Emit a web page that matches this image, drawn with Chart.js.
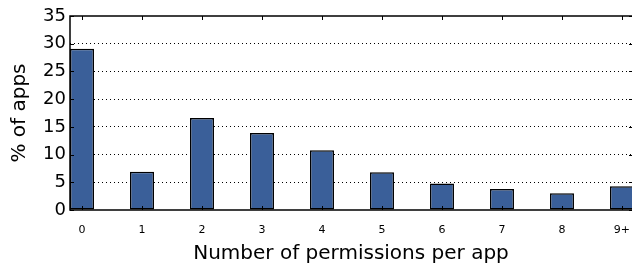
<!DOCTYPE html>
<html>
<head>
<meta charset="utf-8">
<script src="https://cdn.jsdelivr.net/npm/chart.js@4"></script>
<style>
html,body{margin:0;padding:0;background:#fff;overflow:hidden;width:632px;height:268px;}
canvas{display:block;}
</style>
</head>
<body>
<canvas id="c" width="632" height="268"></canvas>
<script>
const categories = ["0","1","2","3","4","5","6","7","8","9+"];
const percentApps = [29.1, 6.9, 16.6, 13.9, 10.8, 6.8, 4.8, 3.8, 3.0, 4.3];
const yTicks = [0,5,10,15,20,25,30,35];
const xRange = [-0.2, 9.167];

const FONT = "'DejaVu Sans', sans-serif";

const frame = {
  id: 'frame',
  afterDatasetsDraw(chart) {
    const {ctx, chartArea: a, scales} = chart;
    ctx.save();
    ctx.strokeStyle = '#000';
    ctx.lineWidth = 1;
    // inward ticks
    ctx.beginPath();
    categories.forEach((c, i) => {
      const x = Math.round(scales.x.getPixelForValue(i)) + 0.5;
      ctx.moveTo(x, a.top); ctx.lineTo(x, a.top + 4);
      ctx.moveTo(x, a.bottom); ctx.lineTo(x, a.bottom - 4);
    });
    yTicks.forEach(v => {
      const y = Math.round(scales.y.getPixelForValue(v)) + 0.5;
      ctx.moveTo(a.left, y); ctx.lineTo(a.left + 4, y);
      ctx.moveTo(a.right, y); ctx.lineTo(a.right - 3, y);
    });
    ctx.stroke();
    // spines (left, top, bottom; right spine lies just beyond the canvas)
    ctx.lineWidth = 1.5;
    ctx.beginPath();
    ctx.moveTo(a.right + 2, a.top); ctx.lineTo(a.left, a.top);
    ctx.lineTo(a.left, a.bottom); ctx.lineTo(a.right + 2, a.bottom);
    ctx.stroke();
    ctx.restore();
  }
};

new Chart(document.getElementById('c'), {
  type: 'bar',
  data: {
    datasets: [{
      data: percentApps.map((v, i) => ({x: i, y: v})),
      backgroundColor: '#3a5f99',
      borderColor: '#000',
      borderWidth: 1.5,
      borderSkipped: false,
      barPercentage: 0.4,
      categoryPercentage: 1.0
    }]
  },
  options: {
    responsive: false,
    maintainAspectRatio: false,
    animation: false,
    devicePixelRatio: 1,
    layout: {padding: {top: 16, right: 0, left: 0, bottom: 0}},
    plugins: {legend: {display: false}, tooltip: {enabled: false}},
    scales: {
      x: {
        type: 'linear',
        offset: false,
        min: xRange[0], max: xRange[1],
        afterFit(s) { s.height = 58; s.paddingLeft = 0; s.paddingRight = 0; },
        afterBuildTicks(s) { s.ticks = categories.map((c, i) => ({value: i})); },
        ticks: {
          callback: (v) => categories[v],
          font: {family: FONT, size: 11},
          color: '#000',
          padding: 14,
          maxRotation: 0,
          autoSkip: false
        },
        grid: {display: false, drawTicks: false, tickLength: 0, offset: false},
        border: {display: false},
        title: {
          display: true,
          text: 'Number of permissions per app',
          font: {family: FONT, size: 20},
          color: '#000',
          padding: {top: 0, bottom: 2}
        }
      },
      y: {
        min: 0, max: 35,
        afterFit(s) { s.width = 70; s.paddingTop = 0; s.paddingBottom = 0; },
        afterBuildTicks(s) { s.ticks = yTicks.map(v => ({value: v})); },
        ticks: {
          font: {family: FONT, size: 18},
          color: '#000',
          padding: 4
        },
        grid: {
          drawTicks: false,
          tickLength: 0,
          color: (c) => (c.tick && (c.tick.value === 0 || c.tick.value === 35)) ? 'rgba(0,0,0,0)' : '#000',
          lineWidth: 1
        },
        border: {display: false, dash: [1, 3]},
        title: {
          display: true,
          text: '% of apps',
          font: {family: FONT, size: 20},
          color: '#000',
          padding: {top: 8, bottom: 0}
        }
      }
    }
  },
  plugins: [frame]
});
</script>
</body>
</html>
